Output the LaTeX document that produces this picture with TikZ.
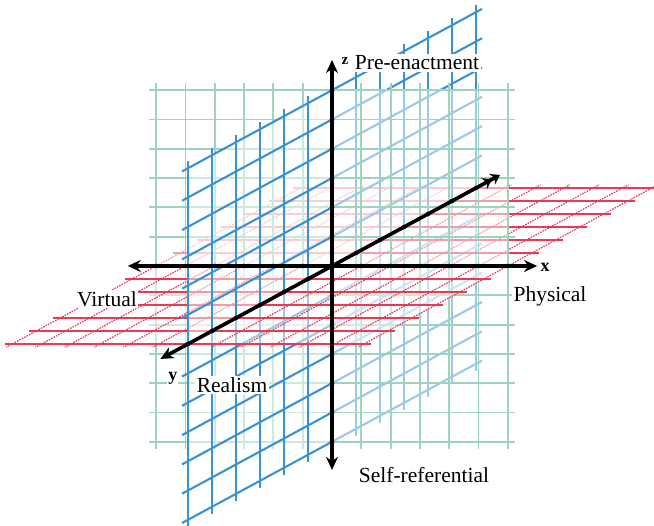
\documentclass[tikz,border=0pt]{standalone}
\usepackage{fontspec}
\setmainfont{Liberation Serif}
\usetikzlibrary{arrows.meta}
\definecolor{bluel}{RGB}{58,145,212}
\definecolor{greenl}{RGB}{156,212,190}
\definecolor{redl}{RGB}{232,58,84}
% quadrant of the red plane z=0 ; #1 = sign of x, #2 = sign of y
\newcommand\redquad[2]{%
  \fill[veil] (0,0,0) -- ({6*(#1)},0,0) -- ({6*(#1)},{6*(#2)},0) -- (0,{6*(#2)},0) -- cycle;
  \foreach \i in {1,...,6}{%
    \draw[reddot] ({\i*(#1)},0,0) -- ({\i*(#1)},{6.25*(#2)},0);
    \draw[redline] (0,{\i*(#2)},0) -- ({6.25*(#1)},{\i*(#2)},0);
  }}
% quadrant of the blue plane x=0 ; #1 = sign of y, #2 = sign of z
\newcommand\bluequad[2]{%
  \fill[veil] (0,0,0) -- (0,{6*(#1)},0) -- (0,{6*(#1)},{6*(#2)}) -- (0,0,{6*(#2)}) -- cycle;
  \foreach \i in {1,...,6}{%
    \draw[blueline] (0,{\i*(#1)},0) -- (0,{\i*(#1)},{6.25*(#2)});
    \draw[blueline] (0,0,{\i*(#2)}) -- (0,{6.25*(#1)},{\i*(#2)});
  }}
% quadrant of the green plane y=0 ; #1 = sign of x, #2 = sign of z
\newcommand\greenquad[2]{%
  \fill[veil] (0,0,0) -- ({6*(#1)},0,0) -- ({6*(#1)},0,{6*(#2)}) -- (0,0,{6*(#2)}) -- cycle;
  \foreach \i in {1,...,6}{%
    \draw[greenline] ({\i*(#1)},0,0) -- ({\i*(#1)},0,{6.25*(#2)});
    \draw[greenline] (0,0,{\i*(#2)}) -- ({6.25*(#1)},0,{\i*(#2)});
  }}
\begin{document}
\begin{tikzpicture}[x={(29.3pt,0pt)}, y={(-24pt,-13pt)}, z={(0pt,29.3pt)},
  veil/.style={fill=white, fill opacity=0.5},
  redline/.style={draw=redl, line width=1.6pt},
  reddot/.style={draw=redl, line width=1.2pt, dash pattern=on 1.6pt off 1.1pt},
  blueline/.style={draw=bluel, line width=2.1pt},
  greenline/.style={draw=greenl, line width=1.9pt},
  axis/.style={line width=3.6pt, black},
  lab/.style={fill=white, inner sep=1.5pt, font=\fontsize{21.5}{24}\selectfont},
  axlab/.style={fill=white, inner sep=1pt, font=\bfseries\fontsize{18}{20}\selectfont}]
\fill[white] (-332pt,-260pt) rectangle (322pt,266pt);
\useasboundingbox (-332pt,-260pt) rectangle (322pt,266pt);
% planes, back to front
\redquad{-1}{-1}
\bluequad{-1}{-1}
\greenquad{-1}{-1}
\bluequad{-1}{1}
\greenquad{-1}{1}
\redquad{1}{-1}
\redquad{-1}{1}
\greenquad{1}{-1}
\bluequad{1}{-1}
\greenquad{1}{1}
\bluequad{1}{1}
\redquad{1}{1}
% axes
\coordinate (xn) at (-6.97,0,0);
\coordinate (xp) at (7,0,0);
\coordinate (yfront) at (0,7.15,0);
\coordinate (yback) at (0,-7,0);
\coordinate (zp) at (0,0,7.03);
\coordinate (zn) at (0,0,-6.96);
\draw[axis, {Stealth[length=13pt,width=12pt]}-{Stealth[length=13pt,width=12pt]}] (xn) -- (xp);
\draw[axis, {Stealth[length=13pt,width=12pt]}-{Stealth[length=13pt,width=12pt]}] (zn) -- (zp);
\draw[axis, {Stealth[length=13pt,width=12pt]}-{Stealth[length=9pt,width=12pt]Stealth[length=9pt,width=12pt]}] (yfront) -- (yback);
\foreach \i in {-6,-5,...,-1,1,2,...,6}{
  \fill (\i,0,0) circle (2.3pt);
  \fill (0,0,\i) circle (2.3pt);
  \fill (0,\i,0) circle (2.3pt);
}
% labels
\node[axlab] (lx) at (213pt,-1pt) {x};
\node[axlab] (ly) at (-159pt,-112pt) {y};
\node[axlab, font=\bfseries\fontsize{15}{17}\selectfont] (lz) at (13pt,205pt) {z};
\node[lab] (pre) at (85pt,203pt) {Pre-enactment};
\node[lab] (virt) at (-225pt,-33pt) {Virtual};
\node[lab] (phys) at (218pt,-30pt) {Physical};
\node[lab] (real) at (-100pt,-119pt) {Realism};
\node[lab] (self) at (92pt,-209pt) {Self-referential};
\end{tikzpicture}
\end{document}
